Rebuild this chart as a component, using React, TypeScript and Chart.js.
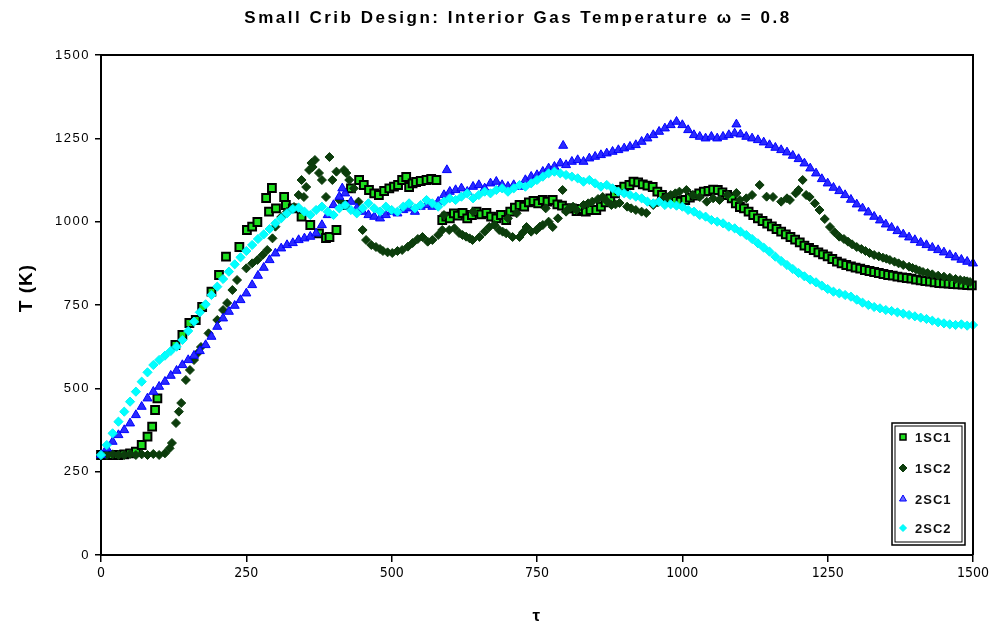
import React, { useEffect, useRef } from "react";
import { Chart, registerables } from "chart.js";

Chart.register(...registerables);

const TITLE = "Small Crib Design: Interior Gas Temperature \u03c9 = 0.8";
const X_TITLE = "\u03c4";
const Y_TITLE = "T (K)";
const xTickValues = [0, 250, 500, 750, 1000, 1250, 1500];
const yTickValues = [0, 250, 500, 750, 1000, 1250, 1500];
const seriesNames = ["1SC1", "1SC2", "2SC1", "2SC2"];

// sample positions (tau) for the two dense 2SC series, every 10
const tauGrid = Array.from({ length: 151 }, (_, i) => i * 10);

const sc22Val = [
  300, 330, 365, 400, 430, 460, 490, 520, 548, 570,
  585, 598, 612, 625, 645, 672, 700, 728, 752, 780,
  805, 828, 850, 872, 893, 912, 930, 948, 962, 978,
  995, 1010, 1025, 1038, 1042, 1030, 1020, 1035, 1045, 1030,
  1020, 1040, 1050, 1035, 1025, 1040, 1055, 1040, 1030, 1045,
  1035, 1030, 1045, 1055, 1040, 1050, 1065, 1055, 1045, 1060,
  1070, 1065, 1075, 1085, 1070, 1080, 1090, 1085, 1095, 1100,
  1090, 1100, 1110, 1105, 1115, 1125, 1135, 1145, 1150, 1145,
  1140, 1135, 1130, 1120, 1125, 1115, 1105, 1110, 1100, 1090,
  1085, 1080, 1075, 1070, 1060, 1055, 1060, 1050, 1052, 1048,
  1045, 1035, 1030, 1020, 1015, 1005, 1000, 995, 985, 980,
  970, 960, 948, 935, 922, 910, 895, 882, 870, 858,
  846, 836, 826, 818, 808, 798, 790, 785, 780, 775,
  766, 757, 750, 744, 740, 735, 732, 728, 724, 720,
  716, 712, 708, 703, 698, 695, 692, 690, 692, 688,
  690,
];

const sc21Val = [
  300, 320, 340, 360, 375, 395, 420, 445, 470, 490,
  505, 520, 538, 553, 570, 585, 598, 612, 630, 655,
  685, 710, 730, 748, 765, 785, 810, 838, 862, 885,
  905, 920, 930, 936, 945, 950, 955, 965, 990, 1020,
  1050, 1075, 1085, 1060, 1040, 1030, 1020, 1015, 1010, 1020,
  1030, 1025, 1035, 1040, 1030, 1045, 1050, 1045, 1060, 1080,
  1090, 1095, 1100, 1090, 1105, 1110, 1100, 1115, 1120, 1110,
  1105, 1110, 1105, 1125, 1135, 1140, 1150, 1160, 1165, 1175,
  1170, 1180, 1185, 1180, 1190, 1195, 1200, 1205, 1210, 1215,
  1220, 1225, 1230, 1240, 1250, 1260, 1270, 1280, 1290, 1300,
  1290, 1275, 1260, 1255, 1250, 1255, 1250, 1255, 1260, 1265,
  1262, 1255, 1250, 1245, 1238, 1230, 1222, 1215, 1208, 1198,
  1188, 1175, 1160, 1145, 1128, 1115, 1102, 1092, 1080, 1066,
  1052, 1040, 1028, 1015, 1004, 992, 982, 972, 962, 953,
  945, 937, 930, 922, 915, 908, 900, 893, 886, 880,
  875,
];
const sc21ExtraTau = [415, 595, 795, 1093];
const sc21ExtraVal = [1100, 1155, 1228, 1292];

const sc11Tau = [
  0, 10, 20, 30, 40, 50, 60, 70, 80, 88,
  93, 97, 128, 140, 152, 163, 174, 190, 203, 215,
  238, 251, 260, 269, 284, 289, 294, 301, 315, 318,
  330, 345, 360, 375, 387, 393, 405, 420, 430, 444,
  452, 461, 470, 478, 487, 496, 504, 511, 518, 525,
  530, 536, 542, 550, 560, 568, 577,
  587, 594, 600, 607, 614, 622, 630, 638, 646, 654,
  663, 671, 680, 688, 697, 704, 712, 720, 728, 736,
  744, 752, 760, 768, 777, 785, 793, 801, 810, 818,
  826, 834, 842, 852, 860, 868, 876, 884, 892, 900,
  909, 916, 924, 932, 940, 949, 957, 965, 973, 981,
  989, 997, 1005, 1013, 1021, 1029, 1037, 1045, 1053, 1061,
  1069, 1077, 1085, 1092,
  1099, 1106, 1114, 1122, 1130, 1138, 1146, 1154, 1162, 1170,
  1178, 1186, 1194, 1202, 1210, 1218, 1226, 1234, 1242, 1250,
  1258, 1266, 1274, 1282, 1290, 1298, 1306, 1314, 1322, 1330,
  1338, 1346, 1354, 1362, 1370, 1378, 1386, 1394, 1402, 1410,
  1418, 1426, 1434, 1442, 1450, 1458, 1466, 1474, 1482, 1490,
  1498,
];
const sc11Val = [
  300, 300, 300, 300, 302, 305, 310, 330, 355, 385,
  435, 470, 630, 660, 696, 705, 744, 790, 840, 895,
  924, 975, 985, 999, 1071, 1030, 1101, 1040, 1074, 1050,
  1040, 1015, 990, 965, 951, 954, 975, 1050, 1100, 1125,
  1110, 1095, 1085, 1080, 1092, 1100, 1105, 1110, 1125, 1134,
  1104, 1115, 1119, 1122, 1125, 1128, 1125,
  1005, 1015, 1010, 1025, 1018, 1026, 1010, 1020, 1030, 1022,
  1026, 1015, 1010, 1020, 1005, 1030, 1042, 1050, 1045, 1058,
  1062, 1055, 1065, 1060, 1065, 1052, 1048, 1040, 1040, 1032,
  1038, 1030, 1035, 1035, 1045, 1058, 1070, 1085, 1095, 1105,
  1110, 1120, 1118, 1112, 1108, 1104, 1090, 1080, 1072, 1068,
  1062, 1060, 1065, 1072, 1078, 1085, 1090, 1092, 1096, 1095,
  1088, 1080, 1070, 1055,
  1044, 1040, 1030, 1020, 1010, 1002, 994, 986, 978, 970,
  962, 954, 946, 938, 928, 921, 915, 908, 902, 896,
  888, 880, 875, 870, 866, 862, 859, 855, 852, 849,
  846, 843, 840, 838, 835, 833, 831, 829, 826, 824,
  822, 820, 818, 816, 815, 814, 813, 812, 811, 810,
  809,
];

const sc12Tau = [
  0, 10, 20, 30, 40, 50, 60, 70, 80, 90,
  100, 110, 118, 122, 129, 134, 138, 146, 153, 160,
  166, 172, 185, 200, 210, 217, 226, 234, 250, 260,
  269, 278, 286, 295, 300, 310, 320, 332, 340, 345,
  349, 353, 358, 362, 364, 368, 375, 380, 387, 393,
  398, 405, 410, 418, 422, 427, 435, 443, 450, 456,
  465, 473, 480, 485, 493, 501, 510, 518, 528, 536,
  545, 553, 562, 570, 580, 587, 590, 599, 608, 616,
  622, 628, 634, 639, 640, 651, 660, 668, 677, 685,
  691, 697, 700, 708, 715, 720, 726, 732, 740, 749,
  755, 760, 765, 770, 777, 786, 794, 800, 805, 812,
  818, 830, 838, 845, 855, 863, 870, 878, 885, 892,
  905, 912, 920, 930, 938, 950, 958, 965, 972, 980,
  988, 995, 1007, 1018, 1030, 1042, 1053, 1064,
  1078, 1093, 1099, 1110, 1120, 1133, 1145, 1156, 1170, 1180,
  1185, 1195, 1200, 1207, 1213, 1219, 1228, 1236, 1245, 1254,
  1262, 1270, 1278, 1285, 1292, 1300, 1308, 1315, 1322, 1330,
  1338, 1345, 1351, 1357, 1365, 1372, 1380, 1390, 1396, 1402,
  1408, 1414, 1422, 1430, 1440, 1450, 1460, 1470, 1478, 1485,
  1490, 1495,
];
const sc12Val = [
  300, 300, 302, 300, 300, 303, 300, 302, 300, 303,
  300, 305, 320, 336, 396, 430, 456, 525, 555, 585,
  605, 624, 665, 705, 735, 756, 795, 825, 860, 875,
  885, 900, 915, 950, 985, 1014, 1030, 1044, 1080, 1125,
  1074, 1104, 1155, 1176, 1164, 1185, 1146, 1125, 1074, 1194,
  1125, 1150, 1065, 1155, 1146, 1125, 1100, 1060, 975, 945,
  930, 924, 918, 912, 908, 906, 912, 915, 925, 936,
  948, 954, 940, 945, 960, 975, 1020, 975, 980, 966,
  960, 955, 950, 945, 1030, 954, 970, 984, 990, 975,
  970, 965, 1010, 954, 1025, 954, 968, 984, 970, 975,
  985, 990, 1040, 1000, 984, 1010, 1095, 1030, 1040, 1045,
  1035, 1050, 1055, 1060, 1068, 1074, 1062, 1050, 1052, 1056,
  1045, 1040, 1035, 1030, 1026, 1050, 1058, 1065, 1072, 1080,
  1085, 1090, 1095, 1080, 1074, 1060, 1070, 1065,
  1080, 1086, 1065, 1070, 1080, 1110, 1075, 1074, 1060, 1070,
  1065, 1085, 1095, 1125, 1080, 1074, 1055, 1035, 1008, 984,
  968, 955, 948, 940, 932, 924, 918, 912, 906, 900,
  896, 892, 889, 885, 880, 875, 870, 865, 861, 857,
  853, 849, 846, 842, 838, 835, 832, 828, 825, 823,
  821, 819,
];

const FONT = "'Liberation Sans', Arial, sans-serif";
const NARROW = "'Liberation Sans Narrow', 'DejaVu Sans Condensed', 'Liberation Sans', sans-serif";

const pts = (xs: number[], ys: number[]) => xs.map((x, i) => ({ x, y: ys[i] }));

const styles = [
  { style: "rect", radius: 5.5, fill: "#1ee01e", stroke: "#000000", bw: 2 },
  { style: "rectRot", radius: 4.5, fill: "#0c3d0c", stroke: "#0c3d0c", bw: 1 },
  { style: "triangle", radius: 5.2, fill: "#2a2aff", stroke: "#0000ff", bw: 1 },
  { style: "rectRot", radius: 4.6, fill: "#00ffff", stroke: "#00f4f4", bw: 1 },
];

function drawMarker(ctx: CanvasRenderingContext2D, idx: number, x: number, y: number) {
  const s = styles[idx];
  ctx.save();
  ctx.beginPath();
  if (idx === 0) {
    ctx.rect(x - 3, y - 3, 6, 6);
  } else if (idx === 2) {
    const r = 4;
    ctx.moveTo(x, y - r);
    ctx.lineTo(x + r * 0.866, y + r * 0.5);
    ctx.lineTo(x - r * 0.866, y + r * 0.5);
    ctx.closePath();
  } else {
    const r = idx === 1 ? 4 : 3.5;
    ctx.moveTo(x - r, y);
    ctx.lineTo(x, y - r);
    ctx.lineTo(x + r, y);
    ctx.lineTo(x, y + r);
    ctx.closePath();
  }
  ctx.fillStyle = idx === 2 ? "#6a6aff" : s.fill;
  ctx.fill();
  ctx.lineWidth = idx === 0 ? 1.5 : 1;
  ctx.strokeStyle = s.stroke;
  ctx.stroke();
  ctx.restore();
}

const decorPlugin = {
  id: "decor",
  beforeDraw(chart: any) {
    chart.ctx.letterSpacing = "1.5px";
  },
  afterDatasetsDraw(chart: any) {
    chart.ctx.letterSpacing = "0px";
  },
  afterDraw(chart: any) {
    const ctx: CanvasRenderingContext2D = chart.ctx;
    const a = chart.chartArea;
    ctx.save();
    ctx.strokeStyle = "#000";
    ctx.lineWidth = 2;
    ctx.beginPath();
    ctx.moveTo(a.left, a.top);
    ctx.lineTo(a.right, a.top);
    ctx.lineTo(a.right, a.bottom);
    ctx.stroke();

    (ctx as any).letterSpacing = "2.5px";
    ctx.fillStyle = "#000";
    ctx.font = `bold 17px ${FONT}`;
    ctx.textAlign = "center";
    ctx.textBaseline = "middle";
    ctx.fillText(TITLE, 518, 18);
    (ctx as any).letterSpacing = "0px";

    ctx.save();
    ctx.translate(27, 288);
    ctx.rotate(-Math.PI / 2);
    ctx.font = `bold 19px ${FONT}`;
    (ctx as any).letterSpacing = "1px";
    ctx.fillText(Y_TITLE, 0, 0);
    ctx.restore();

    const lx = 892, ly = 423, lw = 73, lh = 122;
    ctx.fillStyle = "#fff";
    ctx.fillRect(lx, ly, lw, lh);
    ctx.strokeStyle = "#000";
    ctx.lineWidth = 1.5;
    ctx.strokeRect(lx, ly, lw, lh);
    ctx.lineWidth = 1;
    ctx.strokeRect(lx + 3, ly + 3, lw - 6, lh - 6);
    const rows = [437, 468, 499, 528];
    ctx.font = `bold 13px ${FONT}`;
    ctx.textAlign = "left";
    ctx.textBaseline = "middle";
    (ctx as any).letterSpacing = "1px";
    seriesNames.forEach((name, i) => {
      drawMarker(ctx, i, 903, rows[i]);
      ctx.fillStyle = "#111";
      ctx.fillText(name, 915, rows[i] + 1);
    });
    (ctx as any).letterSpacing = "0px";
    ctx.restore();
  },
};

export default function App() {
  const ref = useRef<HTMLCanvasElement>(null);
  useEffect(() => {
    const canvas = ref.current!;
    const mk = (i: number, data: any[], order: number) => ({
      label: seriesNames[i],
      data,
      showLine: false,
      pointStyle: styles[i].style,
      pointRadius: styles[i].radius,
      pointHoverRadius: styles[i].radius,
      pointBackgroundColor: styles[i].fill,
      pointBorderColor: styles[i].stroke,
      pointBorderWidth: styles[i].bw,
      clip: false,
      order,
    });
    const chart = new Chart(canvas, {
      type: "scatter",
      data: {
        datasets: [
          mk(0, pts(sc11Tau, sc11Val), 3),
          mk(1, pts(sc12Tau, sc12Val), 2),
          mk(2, pts(tauGrid, sc21Val).concat(pts(sc21ExtraTau, sc21ExtraVal)), 1),
          mk(3, pts(tauGrid, sc22Val), 0),
        ],
      },
      options: {
        animation: false,
        responsive: false,
        devicePixelRatio: 1,
        layout: { padding: { top: 55, right: 22, left: 0, bottom: 0 } },
        plugins: {
          legend: { display: false },
          title: { display: false },
          tooltip: { enabled: false },
        },
        scales: {
          x: {
            type: "linear",
            min: 0,
            max: 1500,
            afterBuildTicks: (s: any) => {
              s.ticks = xTickValues.map((v) => ({ value: v }));
            },
            afterFit: (s: any) => {
              s.height = 79;
            },
            grid: { drawOnChartArea: false, drawTicks: true, tickLength: 7, color: "#000", lineWidth: 1.5 },
            border: { display: true, color: "#000", width: 2 },
            ticks: {
              z: 1,
              padding: 3,
              color: "#000",
              font: { family: NARROW, size: 14 },
              callback: (v: any) => String(v),
            },
            title: {
              display: true,
              text: X_TITLE,
              color: "#000",
              font: { family: FONT, size: 17, weight: "bold" },
              padding: { top: 0, bottom: 7 },
            },
          },
          y: {
            type: "linear",
            min: 0,
            max: 1500,
            afterBuildTicks: (s: any) => {
              s.ticks = yTickValues.map((v) => ({ value: v }));
            },
            afterFit: (s: any) => {
              s.width = 101;
            },
            grid: { drawOnChartArea: false, drawTicks: true, tickLength: 6, color: "#000", lineWidth: 1.5 },
            border: { display: true, color: "#000", width: 2 },
            ticks: {
              padding: 5,
              color: "#000",
              font: { family: FONT, size: 13 },
              callback: (v: any) => String(v),
            },
          },
        },
      },
      plugins: [decorPlugin],
    } as any);
    return () => chart.destroy();
  }, []);
  return (
    <div style={{ position: "absolute", left: 0, top: 0, width: 995, height: 634, background: "#fff" }}>
      <canvas ref={ref} width={995} height={634} style={{ display: "block", width: 995, height: 634 }} />
    </div>
  );
}
